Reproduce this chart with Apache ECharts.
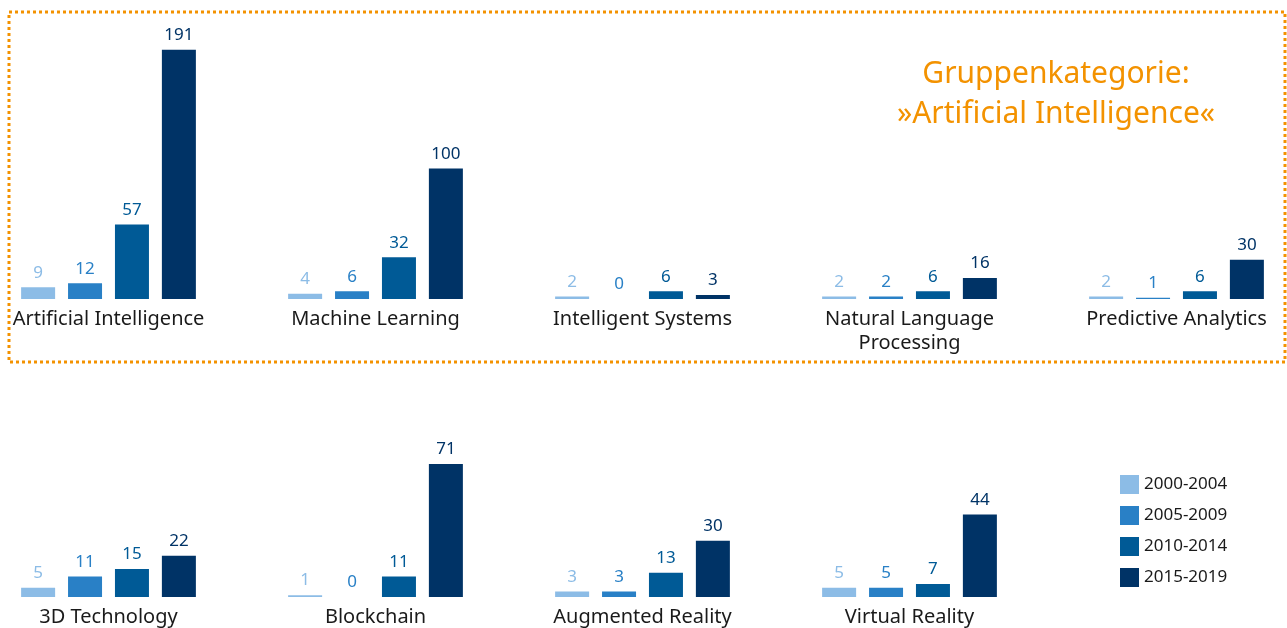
<!DOCTYPE html>
<html>
<head>
<meta charset="utf-8">
<script src="https://cdn.jsdelivr.net/npm/echarts@6/dist/echarts.min.js"></script>
<style>
  html, body { margin: 0; padding: 0; background: #fff; }
  #main { width: 1287px; height: 628px; }
</style>
</head>
<body>
<div id="main"></div>
<script>
// Kategorien und Werte
var periods = ['2000-2004', '2005-2009', '2010-2014', '2015-2019'];
var colors = ['#8cbce6', '#2980c6', '#005a96', '#003366'];

var topCats = ['Artificial Intelligence', 'Machine Learning', 'Intelligent Systems', 'Natural Language\nProcessing', 'Predictive Analytics'];
var top2000 = [9, 4, 2, 2, 2];
var top2005 = [12, 6, 0, 2, 1];
var top2010 = [57, 32, 6, 6, 6];
var top2015 = [191, 100, 3, 16, 30];

var bottomCats = ['3D Technology', 'Blockchain', 'Augmented Reality', 'Virtual Reality'];
var bottom2000 = [5, 1, 3, 5];
var bottom2005 = [11, 0, 3, 5];
var bottom2010 = [15, 11, 13, 7];
var bottom2015 = [22, 71, 30, 44];

var font = '"Noto Sans", "Open Sans", sans-serif';

var myChart = echarts.init(document.getElementById('main'));

function makeSeries(data, idx, grid) {
	return {
		name : periods[idx],
		type : 'bar',
		xAxisIndex : grid,
		yAxisIndex : grid,
		data : data,
		barWidth : 34,
		barGap : '38%',
		itemStyle : { color : colors[idx] },
		label : {
			show : true,
			position : 'top',
			distance : 6,
			color : colors[idx],
			fontSize : 17,
			fontFamily : font
		},
		emphasis : { disabled : true }
	};
}

var topData = [top2000, top2005, top2010, top2015];
var bottomData = [bottom2000, bottom2005, bottom2010, bottom2015];
var series = [];
for (var i = 0; i < 4; i++) series.push(makeSeries(topData[i], i, 0));
for (var i = 0; i < 4; i++) series.push(makeSeries(bottomData[i], i, 1));

var catAxis = function(cats, grid) {
	return {
		type : 'category',
		gridIndex : grid,
		data : cats,
		axisLine : { show : false },
		axisTick : { show : false },
		axisLabel : {
			interval : 0,
			margin : 8,
			color : '#1a1a1a',
			fontSize : 20,
			lineHeight : 24,
			fontFamily : font
		}
	};
};

option = {
	backgroundColor : '#ffffff',
	animation : false,
	grid : [
		{ left : -25, width : 1335, top : 38, height : 261, outerBoundsMode : 'none', containLabel : false },
		{ left : -25, width : 1068, top : 447, height : 150, outerBoundsMode : 'none', containLabel : false }
	],
	xAxis : [ catAxis(topCats, 0), catAxis(bottomCats, 1) ],
	yAxis : [
		{ type : 'value', gridIndex : 0, min : 0, max : 200, show : false, splitLine : { show : false } },
		{ type : 'value', gridIndex : 1, min : 0, max : 80, show : false, splitLine : { show : false } }
	],
	legend : {
		orient : 'vertical',
		left : 1120,
		top : 475,
		padding : 0,
		itemWidth : 19,
		itemHeight : 19,
		itemGap : 12,
		icon : 'rect',
		data : periods,
		selectedMode : false,
		textStyle : { color : '#1a1a1a', fontSize : 17, fontFamily : font }
	},
	graphic : [
		{
			type : 'rect',
			shape : { x : 9, y : 12, width : 1276, height : 350 },
			style : { fill : 'none', stroke : '#f39200', lineWidth : 3, lineDash : [3, 3] },
			silent : true
		},
		{
			type : 'text',
			x : 1056,
			y : 54,
			style : {
				text : 'Gruppenkategorie:\n»Artificial Intelligence«',
				fill : '#f39200',
				font : '30px ' + font,
				textAlign : 'center',
				textVerticalAlign : 'top',
				lineHeight : 40
			},
			silent : true
		}
	],
	series : series
};
myChart.setOption(option, true);
</script>
</body>
</html>
